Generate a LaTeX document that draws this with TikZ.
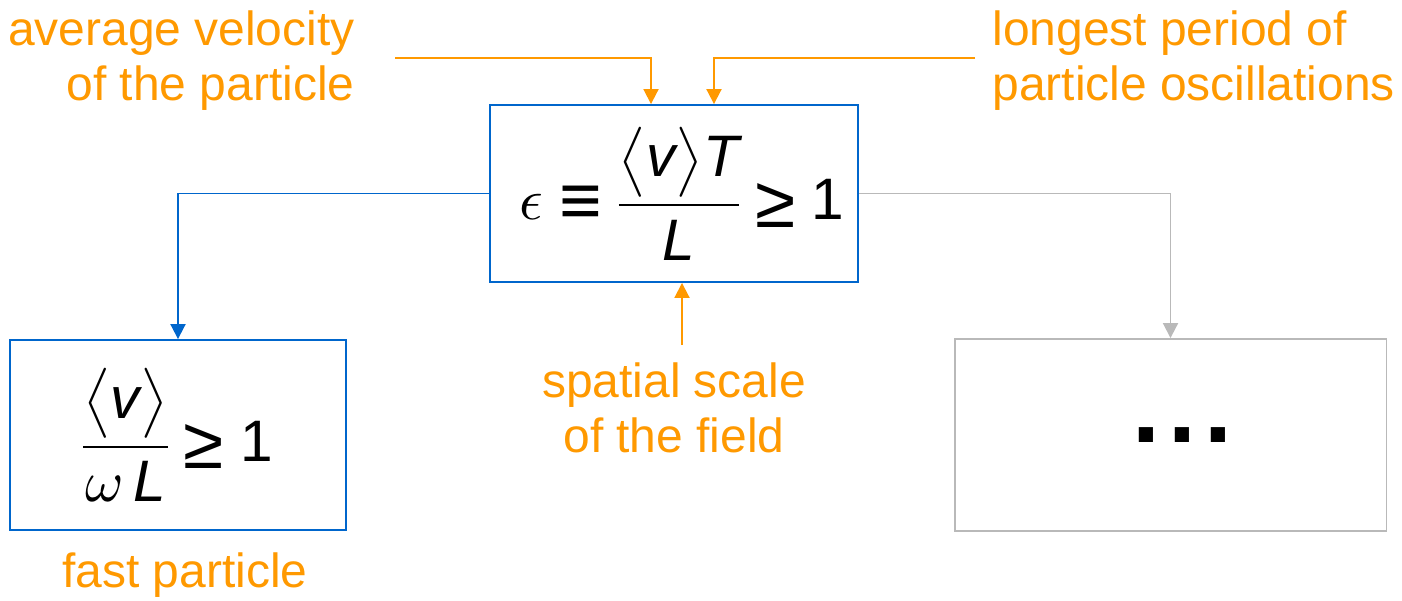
\documentclass[tikz,border=0pt]{standalone}
\usepackage{amsmath}
\usepackage{graphicx}
\usepackage{fontspec}
\setmainfont{Liberation Sans}
\usetikzlibrary{arrows.meta}
\definecolor{hintorange}{RGB}{255,153,0}
\definecolor{boxblue}{RGB}{0,102,204}
\definecolor{boxgray}{RGB}{185,185,185}
\newcommand{\bigrel}[1]{\mathrel{\vcenter{\hbox{\scalebox{1.25}{#1}}}}}
\newcommand{\eqv}{\bigrel{≡}}
\newcommand{\geqs}{\bigrel{≥}}
\newcommand{\formula}[1]{\scalebox{3.33}{\nulldelimiterspace=0pt\thickmuskip=5mu$#1$}}

\begin{document}
\begin{tikzpicture}[
  x=0.02cm, y=-0.02cm,
  box/.style={draw, line width=1.1pt, inner sep=0pt, fill=white},
  lbl/.style={text=hintorange, font=\fontsize{27.3}{31.6}\selectfont, inner sep=0pt},
  tip/.style={-{Triangle[width=0.3cm, length=0.3cm]}, line width=1.1pt},
  oarr/.style={tip, hintorange},
  barr/.style={tip, boxblue},
  garr/.style={tip, boxgray}
]
\useasboundingbox (0,0) rectangle (1402,600);

\node[box, draw=boxblue, minimum width=7.36cm, minimum height=3.54cm] (main) at (674,193.5)
  {\hspace*{0.32cm}\formula{\epsilon\eqv\dfrac{\bigl\langle\textit{v}\bigr\rangle\textit{T}}{\textit{L}}\geqs\text{1}}};
\node[box, draw=boxblue, minimum width=6.72cm, minimum height=3.8cm] (fast) at (178,435)
  {\formula{\dfrac{\bigl\langle\textit{v}\bigr\rangle}{\omega\,\textit{L}}\geqs\text{1}}};
\node[box, draw=boxgray, minimum width=8.64cm, minimum height=3.84cm] (other) at (1170.5,435)
  {\hspace*{0.48cm}\fontsize{57}{60}\selectfont\bfseries .\hspace{0.16cm}.\hspace{0.16cm}.};

\node[lbl, anchor=north east, align=right] (vel) at (355,10) {average velocity\\of the particle};
\node[lbl, anchor=north west, align=left] (per) at (992,10) {longest period of\\particle oscillations};
\node[lbl, anchor=north, align=center] (scl) at (674,362) {spatial scale\\of the field};
\node[lbl, anchor=base] (fastlbl) at (185,587) {fast particle};

\coordinate (vstart) at (395,58);
\coordinate (tstart) at (975,58);
\coordinate (lstart) at (682,345);

\draw[oarr] (vstart) -| ([xshift=-0.46cm]main.north);
\draw[oarr] (tstart) -| ([xshift=0.8cm]main.north);
\draw[oarr] (lstart) -- (lstart |- main.south);
\draw[barr] (main.west) -| (fast.north);
\draw[garr] (main.east) -| (other.north);

\end{tikzpicture}
\end{document}
